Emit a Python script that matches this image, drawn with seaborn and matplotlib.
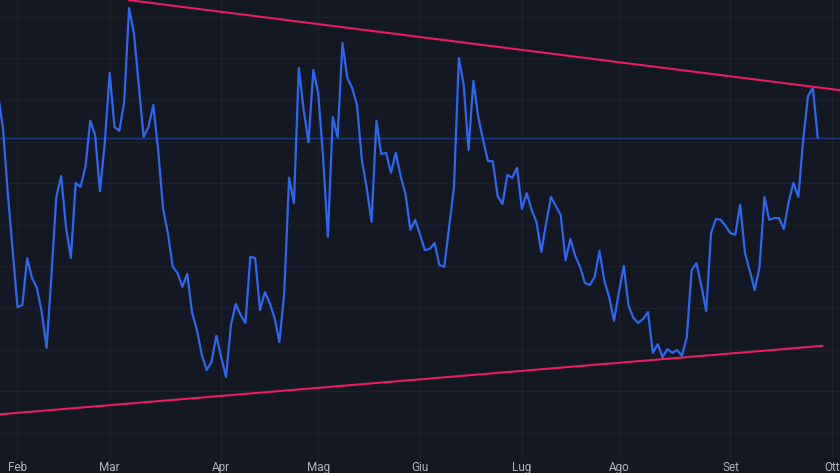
import pandas as pd
import matplotlib
matplotlib.use("Agg")
import matplotlib.pyplot as plt
import seaborn as sns

# closing values, one per trading day (26 Jan 2022 -> 28 Sep 2022)
values = [
    161.4, 153.3, 137.6, 123.9,
    110.2, 110.7, 122.0, 117.2, 114.8, 109.0, 100.4, 117.9, 136.7, 141.7,
    129.5, 122.0, 140.1, 139.1, 143.9, 155.0, 151.6, 138.1, 149.7,
    166.5, 153.5, 152.6, 159.5, 182.1, 176.1, 163.6, 151.1, 153.5, 158.8,
    148.0, 134.0, 128.0, 119.9, 118.4, 115.1, 118.2, 108.8, 104.7, 98.7,
    95.1, 97.0, 103.3,
    98.2, 93.4, 105.9, 111.0, 108.3, 106.4, 122.3, 122.0, 109.5, 113.8,
    111.2, 107.6, 101.8, 113.6, 141.3, 135.2, 167.7, 157.6, 149.9, 167.2,
    161.7, 146.3, 127.1, 155.9, 151.1, 173.7, 165.3, 162.9, 158.8, 145.6,
    138.9, 130.7, 155.0, 147.0, 147.3, 142.5, 147.3, 141.7, 137.4, 128.8,
    131.2,
    127.6, 123.9, 124.2, 125.6, 120.3, 119.9, 129.5, 139.1, 170.1, 163.6,
    148.0, 164.6, 155.9, 150.4, 145.3, 145.3, 136.9, 135.0, 142.0, 141.3,
    143.7,
    133.8, 137.6, 133.6, 130.7, 123.5, 130.4, 136.7, 134.5, 132.4, 121.5,
    126.6, 122.5, 119.9, 116.0, 115.5, 117.5, 123.7, 116.5, 112.6, 106.9,
    113.8, 120.1, 110.5, 107.6, 106.4, 107.4, 109.0, 99.2, 101.3, 98.2,
    100.1, 99.2, 99.9, 98.5, 103.0, 119.1, 120.8, 115.3, 109.3, 128.0,
    131.4, 131.2, 129.7,
    128.0, 127.6, 134.8, 123.2, 118.9, 114.3, 119.9, 136.7, 131.2, 131.6,
    131.6, 129.0, 135.5, 140.1, 136.7, 150.4, 161.0, 162.9, 150.9,
]

month_labels = ["Feb", "Mar", "Apr", "Mag", "Giu", "Lug", "Ago", "Set", "Ott"]

# hand drawn trend lines: (bar index, value) anchors
upper_idx = [27, 176]
upper_val = [184.0, 162.0]
lower_idx = [0, 170]
lower_val = [84.4, 100.9]

holidays = ["2022-02-21", "2022-04-15", "2022-05-30", "2022-06-20",
            "2022-07-04", "2022-09-05"]
dates = pd.bdate_range("2022-01-26", "2022-10-07", freq="C", holidays=holidays)

df = pd.DataFrame({"bar": range(len(values)), "close": values,
                   "date": dates[:len(values)]})

# first bar of each month gives the time axis ticks
month_start = pd.Series(range(len(dates)), index=dates)
month_start = month_start.groupby([dates.year, dates.month]).first().values[1:]

BG = "#141823"
GRID = "#1d212c"

sns.set_theme(style="dark", rc={
    "axes.facecolor": BG,
    "figure.facecolor": BG,
    "axes.edgecolor": BG,
    "grid.color": GRID,
})
plt.rcParams["font.family"] = ["Roboto", "DejaVu Sans"]

fig = plt.figure(figsize=(8.4, 4.73), dpi=100)
ax = fig.add_axes([0, 13 / 473, 1, 460 / 473])

ax.axhline(values[-1], color="#1f3a7c", lw=1.0, zorder=1)
sns.lineplot(data=df, x="bar", y="close", ax=ax, color="#2d66f0", lw=1.6, zorder=3)
ax.plot(upper_idx, upper_val, color="#e91e63", lw=1.5, zorder=2)
ax.plot(lower_idx, lower_val, color="#e91e63", lw=1.5, zorder=2)

ax.set_xlim(0.392, 173.59)
ax.set_ylim(184.04 - 460 * 0.2404, 184.04)
ax.set_xticks(month_start[:len(month_labels)])
ax.set_xticklabels(month_labels)
ax.set_yticks(range(80, 185, 10))
ax.set_yticklabels([])
ax.grid(True, color=GRID, lw=0.8)
ax.tick_params(axis="x", colors="#b2b5be", labelsize=8.5, pad=1, length=0)
ax.tick_params(axis="y", length=0)
ax.set_xlabel("")
ax.set_ylabel("")
for s in ax.spines.values():
    s.set_visible(False)

fig.savefig("out.png", dpi=100, facecolor=BG)
